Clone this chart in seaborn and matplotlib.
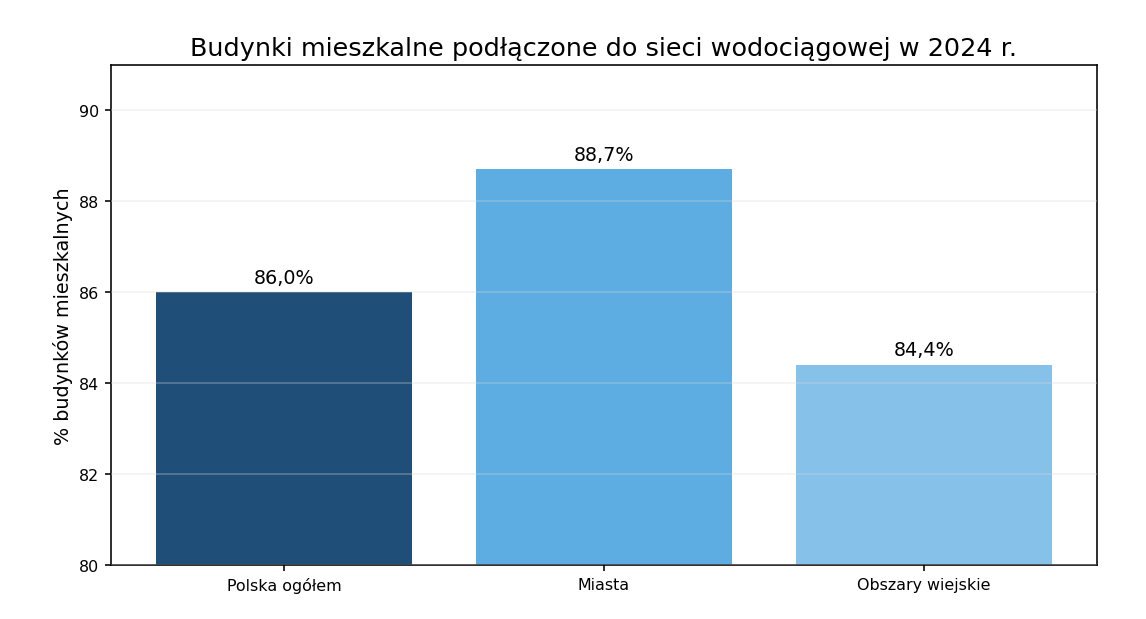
import pandas as pd
import seaborn as sns
import matplotlib.pyplot as plt

categories = ["Polska ogółem", "Miasta", "Obszary wiejskie"]
values = [86.0, 88.7, 84.4]
colors = ["#1f4e79", "#5dade2", "#85c1e9"]

df = pd.DataFrame({"obszar": categories, "procent": values})

sns.set_style("white")
plt.rcParams["font.family"] = ["DejaVu Sans"]
plt.rcParams["text.color"] = "black"
plt.rcParams["axes.labelcolor"] = "black"
plt.rcParams["xtick.color"] = "black"
plt.rcParams["ytick.color"] = "black"

fig = plt.figure(figsize=(10, 5.41), dpi=114.6)
ax = fig.add_axes([0.097, 0.087, 0.86, 0.807])

sns.barplot(data=df, x="obszar", y="procent", hue="obszar", palette=colors,
            width=0.8, saturation=1, legend=False, linewidth=0, ax=ax)

for i, v in enumerate(values):
    ax.text(i, v + 0.12, f"{v:.1f}%".replace(".", ","), ha="center", va="bottom", fontsize=12)

ax.set_ylim(80, 91)
ax.set_xlim(-0.54, 2.54)
ax.set_title("Budynki mieszkalne podłączone do sieci wodociągowej w 2024 r.", fontsize=16)
ax.set_ylabel("% budynków mieszkalnych", fontsize=12)
ax.set_xlabel("")
ax.tick_params(axis="both", labelsize=10, length=4, width=1, left=True, bottom=True)
ax.yaxis.grid(True, color="#d8d8d8", alpha=0.35, linewidth=1)
ax.set_axisbelow(False)
for s in ax.spines.values():
    s.set_color("black")
    s.set_linewidth(1)

plt.savefig("out.png", dpi=114.6)
plt.close()
